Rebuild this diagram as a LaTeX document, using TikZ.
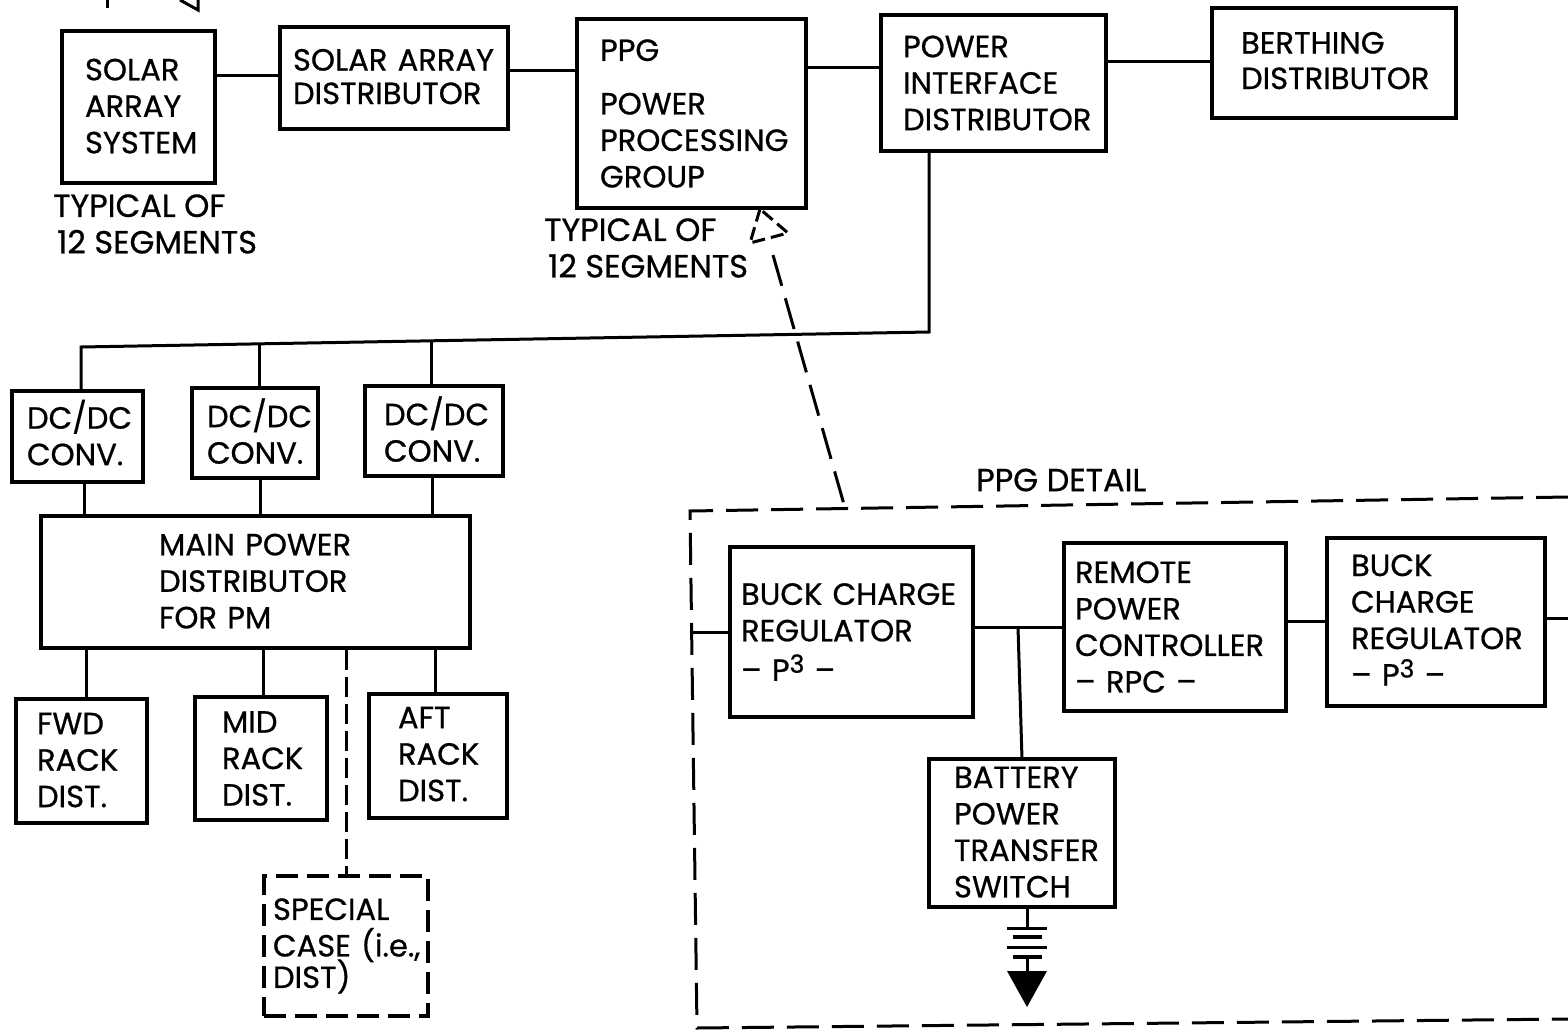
\documentclass[tikz,border=0pt]{standalone}
\usepackage{fontspec}
\usepackage{tikz}
\setmainfont{Poppins}[FakeBold=0.7]
\hyphenpenalty=10000
\newcommand{\lowerpad}[1]{\rule[-#1]{0pt}{0pt}}
\newcommand{\pcube}{P\raisebox{8pt}{\fontsize{25}{25}\selectfont 3}}
\tikzset{
  blockbox/.style={draw=black, line width=3.6pt, inner ysep=0pt, align=left, font=\fontsize{30.6}{36.5}\selectfont},
  dashbox/.style={blockbox, dashed, dash pattern=on 22pt off 9pt},
  plainlabel/.style={inner sep=0pt, align=left, font=\fontsize{32}{36.5}\selectfont},
  conn/.style={draw=black, line width=3pt},
  dashconn/.style={draw=black, line width=3pt, dash pattern=on 32pt off 13pt},
  plate/.style={draw=black, line width=3pt},
  thickplate/.style={draw=black, line width=4.4pt}
}
\begin{document}
\begin{tikzpicture}[x=1pt, y=-1pt]
  \useasboundingbox (0,0) rectangle (1568,1030);
  % top row
  \node[blockbox, minimum height=152pt, text width=107pt, inner xsep=23pt] (solar) at (138.5,107) {SOLAR\\ARRAY\\SYSTEM\lowerpad{2pt}};
  \node[blockbox, minimum height=102pt, text width=202pt, inner xsep=13pt] (solardist) at (394,78) {SOLAR ARRAY\\[-3pt]DISTRIBUTOR\lowerpad{3pt}};
  \node[blockbox, minimum height=189pt, text width=183pt, inner xsep=23pt] (ppg) at (691.5,113.5) {PPG\\[17pt]POWER\\PROCESSING\\GROUP};
  \node[blockbox, minimum height=136pt, text width=181pt, inner xsep=22pt] (pid) at (993.5,83) {POWER\\INTERFACE\\DISTRIBUTOR};
  \node[blockbox, minimum height=110pt, text width=186pt, inner xsep=29pt] (berth) at (1334,63) {BERTHING\\[-1pt]DISTRIBUTOR\lowerpad{5pt}};
  \node[plainlabel, anchor=west] (typa) at (53,224) {TYPICAL OF\\\hspace*{4pt}12 SEGMENTS};
  \node[plainlabel, anchor=west] (typb) at (544,248) {TYPICAL OF\\\hspace*{4pt}12 SEGMENTS};
  % converters
  \node[blockbox, minimum height=91pt, text width=101pt, inner xsep=15pt] (dca) at (77.5,436.5) {DC/DC\\CONV.\lowerpad{8pt}};
  \node[blockbox, minimum height=90pt, text width=96pt, inner xsep=15pt] (dcb) at (255,433) {DC/DC\\CONV.\lowerpad{4pt}};
  \node[blockbox, minimum height=90pt, text width=100pt, inner xsep=19pt] (dcc) at (434,431) {DC/DC\\CONV.\lowerpad{4pt}};
  \node[blockbox, minimum height=132pt, text width=193pt, inner xsep=118pt] (mainpd) at (255.5,582) {MAIN POWER\\DISTRIBUTOR\\FOR PM\lowerpad{2pt}};
  % rack distributors
  \node[blockbox, minimum height=124pt, text width=89pt, inner xsep=21pt] (fwd) at (81.5,761) {FWD\\RACK\\DIST.\lowerpad{2pt}};
  \node[blockbox, minimum height=123pt, text width=78pt, inner xsep=27pt] (mid) at (261,758.5) {MID\\RACK\\DIST.};
  \node[blockbox, minimum height=124pt, text width=80pt, inner xsep=29pt] (aft) at (438,756) {AFT\\RACK\\DIST.\lowerpad{4pt}};
  \node[dashbox, minimum height=140pt, text width=146pt, inner xsep=9pt] (special) at (346,946) {SPECIAL\\CASE~(i.e.,\\[-5pt]DIST)\lowerpad{3pt}};
  % ppg detail
  \node[plainlabel, anchor=west] (detail) at (976,480) {PPG DETAIL};
  \node[blockbox, minimum height=170pt, text width=221pt, inner xsep=11pt] (bucka) at (851.5,632) {BUCK CHARGE\\REGULATOR\\[3pt]– \pcube{} –};
  \node[blockbox, minimum height=168pt, text width=200pt, inner xsep=11pt] (rpc) at (1175,627) {REMOTE\\POWER\\CONTROLLER\\– RPC –};
  \node[blockbox, minimum height=168pt, text width=170pt, inner xsep=24pt] (buckb) at (1436,622) {BUCK\\CHARGE\\REGULATOR\\– \pcube{} –\lowerpad{4pt}};
  \node[blockbox, minimum height=148pt, text width=136pt, inner xsep=25pt] (bpts) at (1022,833) {BATTERY\\POWER\\TRANSFER\\SWITCH\lowerpad{2pt}};
  % connectors
  \draw[conn] (solar.east |- 0,76) -- (solardist.west |- 0,76);
  \draw[conn] (solardist.east |- 0,71) -- (ppg.west |- 0,71);
  \draw[conn] (ppg.east |- 0,68) -- (pid.west |- 0,68);
  \draw[conn] (pid.east |- 0,62) -- (berth.west |- 0,62);
  \coordinate (buscorner) at (929,332);
  \coordinate (busend) at (81,347);
  \coordinate (busb) at (259,344);
  \coordinate (busc) at (431,341);
  \draw[conn] (pid.south -| buscorner) -- (buscorner) -- (busend) -- (dca.north -| busend);
  \draw[conn] (busb) -- (dcb.north -| busb);
  \draw[conn] (busc) -- (dcc.north -| busc);
  \draw[conn] (dca.south -| 84,0) -- (mainpd.north -| 84,0);
  \draw[conn] (dcb.south -| 260,0) -- (mainpd.north -| 260,0);
  \draw[conn] (dcc.south -| 432,0) -- (mainpd.north -| 432,0);
  \draw[conn] (mainpd.south -| 86,0) -- (fwd.north -| 86,0);
  \draw[conn] (mainpd.south -| 263,0) -- (mid.north -| 263,0);
  \draw[conn] (mainpd.south -| 435,0) -- (aft.north -| 435,0);
  \draw[conn, dash pattern=on 20pt off 7pt] (mainpd.south -| special) -- (special.north);
  % open end of detail frame
  \coordinate (frametr) at (1568,497);
  \coordinate (frametl) at (690,511);
  \coordinate (framebl) at (697,1028);
  \coordinate (framebr) at (1568,1019);
  \draw[dashconn] (frametr) -- (frametl) -- (framebl) -- (framebr);
  \coordinate (stub) at (692,632);
  \coordinate (rightend) at (1568,618);
  \draw[conn] (stub) -- (bucka.west |- stub);
  \draw[conn] (bucka.east |- 0,627) -- (rpc.west |- 0,627);
  \draw[conn] (rpc.east |- 0,621) -- (buckb.west |- 0,621);
  \draw[conn] (buckb.east |- rightend) -- (rightend);
  \draw[conn] (1018,627) -- (1022,759);
  % battery
  \coordinate (batt) at (1027,928);
  \draw[conn] (bpts.south -| batt) -- (batt);
  \draw[plate] (1007,928) -- (1047,928);
  \draw[thickplate] (1013,937) -- (1042,937);
  \draw[plate] (1007,947) -- (1047,947);
  \draw[thickplate] (1013,957) -- (1042,957);
  \draw[conn] (1027,957) -- (1027,972);
  \fill[black] (1007,971) -- (1047,971) -- (1027,1007) -- cycle;
  % dashed pointer to ppg
  \coordinate (ptrtip) at (760,209);
  \coordinate (ptrfoot) at (845,508);
  \draw[conn, dash pattern=on 13pt off 6pt] (ptrtip) -- (750,243) -- (788,233) -- cycle;
  \draw[dashconn] (773,255) -- (ptrfoot);
  % cut off at the top edge
  \draw[conn] (107,0) -- (107,8);
  \draw[conn] (180,0) -- (198,10) -- (198,0);
\end{tikzpicture}
\end{document}
